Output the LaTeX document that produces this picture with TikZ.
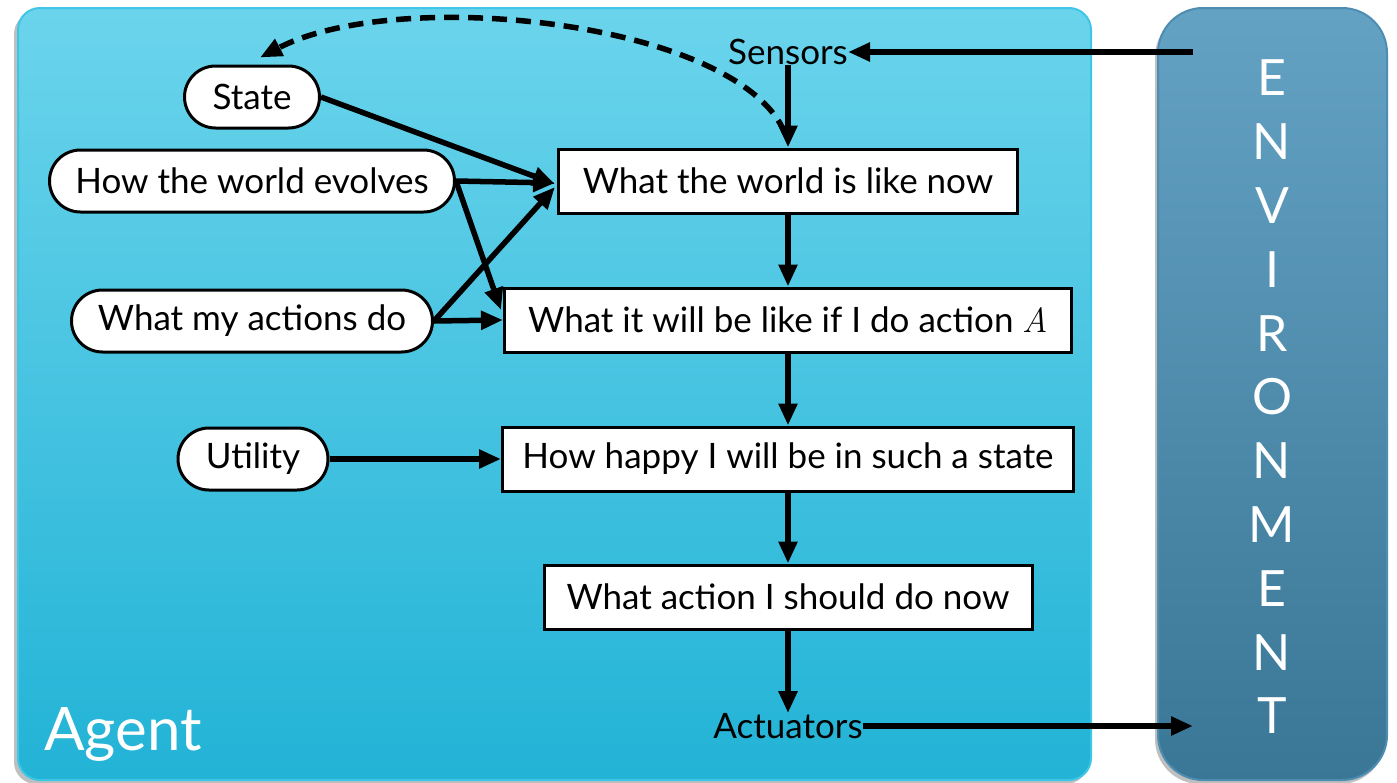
\documentclass[tikz,border=0pt]{standalone}
\usepackage{fontspec}
\setmainfont{Lato}
\newfontfamily\varfont{Latin Modern Roman}
\usetikzlibrary{arrows.meta,shapes.misc,calc}
\definecolor{agenttop}{HTML}{6BD4EC}
\definecolor{agentbot}{HTML}{22B3D6}
\definecolor{agentedge}{HTML}{3FC6E6}
\definecolor{envtop}{HTML}{64A2C4}
\definecolor{envbot}{HTML}{3A7695}
\definecolor{envedge}{HTML}{4E8DB2}
\begin{document}
\begin{tikzpicture}[x=1pt,y=-1pt,
  lbl/.style={font=\fontsize{35}{40}\selectfont, inner sep=0pt},
  pill/.style={lbl, rounded rectangle, draw=black, line width=3pt, fill=white, minimum height=62pt},
  stagebox/.style={lbl, rectangle, draw=black, line width=3pt, fill=white, minimum height=64pt},
  flow/.style={line width=5.5pt, -{Triangle[length=22pt,width=18pt]}},
  envletter/.style={text=white, font=\fontsize{50}{50}\selectfont, inner sep=0pt, anchor=center}
]
\useasboundingbox (0,0) rectangle (1397,782);

% agent panel with its shadow
\fill[black, opacity=0.25, rounded corners=22pt] (14,12) rectangle (1088,784);
\shade[top color=agenttop, bottom color=agentbot, draw=agentedge, line width=2pt, rounded corners=22pt]
  (18,8) rectangle (1091,780);
\node[text=white, font=\fontsize{60}{60}\selectfont, anchor=base west, inner sep=0pt] (agent) at (44,750) {Agent};

% environment panel
\fill[black, opacity=0.25, rounded corners=45pt] (1155,12) rectangle (1385,784);
\shade[top color=envtop, bottom color=envbot, draw=envedge, line width=2pt, rounded corners=45pt]
  (1158,8) rectangle (1387,780);
\foreach \ch [count=\i from 0] in {E,N,V,I,R,O,N,M,E,N,T}
  \node[envletter] (env\i) at (1272,{78+\i*63.8}) {\ch};
\coordinate (envin) at (1193,52);
\coordinate (envout) at (1193,726);

% knowledge inputs
\node[pill, minimum width=135pt] (state) at (252,97) {State};
\node[pill, minimum width=405pt] (evolves) at (252,181) {How the world evolves};
\node[pill, minimum width=361pt] (actions) at (252,321) {What my actions do};
\node[pill, minimum width=150pt] (utility) at (253,459) {Utility};

% decision chain
\node[lbl] (sensors) at (788,52) {Sensors};
\node[stagebox, minimum width=459pt] (world) at (788,181) {What the world is like now};
\node[stagebox, minimum width=567pt] (willbe) at (788,320) {What it will be like if I do action {\varfont\itshape A}};
\node[stagebox, minimum width=571pt] (happy) at (788,459) {How happy I will be in such a state};
\node[stagebox, minimum width=488pt] (action) at (788,597) {What action I should do now};
\node[lbl] (actuators) at (788,726) {Actuators};

% connectors
\draw[flow] (envin) -- (sensors.east);
\draw[flow] (sensors.south) -- (world.north);
\draw[flow] (world.south) -- (willbe.north);
\draw[flow] (willbe.south) -- (happy.north);
\draw[flow] (happy.south) -- (action.north);
\draw[flow] (action.south) -- (actuators.north);
\draw[flow] (actuators.east) -- (envout);

\draw[flow] (state.east) -- ($(world.west)+(-2,3)$);
\draw[flow] (evolves.east) -- ($(world.west)+(-2,2)$);
\draw[flow] (actions.east) -- ($(world.west)+(-2,6)$);
\draw[flow] (evolves.east) -- ($(willbe.west)+(-2,-10)$);
\draw[flow] (actions.east) -- (willbe.west);
\draw[flow] (utility.east) -- (happy.west);

\draw[line width=5.5pt, dash pattern=on 15pt off 9pt, -{Triangle[length=22pt,width=18pt]}]
  ($(world.north)+(-3,-14)$) .. controls (740,22) and (400,-15) .. ($(state.north)+(8,-7)$);
\end{tikzpicture}
\end{document}
